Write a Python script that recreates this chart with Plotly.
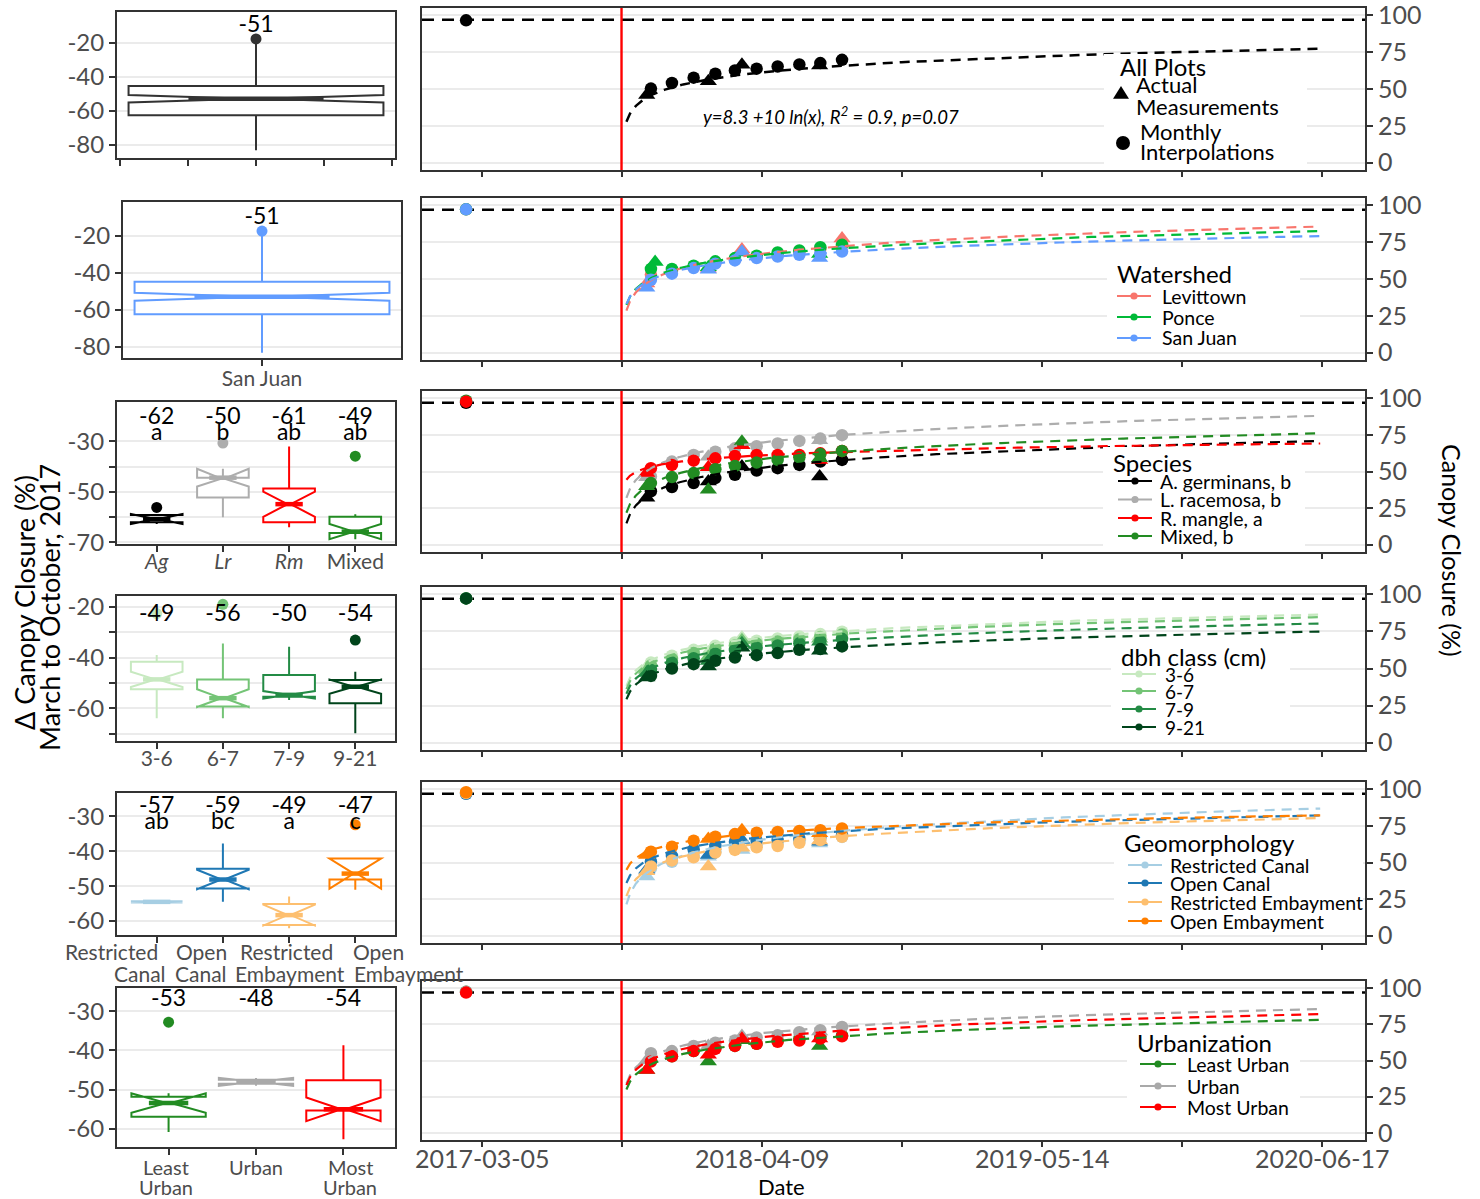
import numpy as np
import plotly.graph_objects as go

W, H = 1480, 1199
FONT = "Lato"
AX_LINE = "#333333"
GRID = "#EBEBEB"
TICK_C = "#4D4D4D"

# ---------------------------------------------------------------- dates
HURRICANE = "2017-09-20"
PRE_DATE = "2017-02-10"
INTERP_DATES = ["2017-11-01", "2017-12-01", "2018-01-01", "2018-02-01", "2018-03-01",
                "2018-04-01", "2018-05-01", "2018-06-01", "2018-07-01", "2018-08-01"]
MEAS_DATES = ["2017-10-26", "2018-01-22", "2018-03-11", "2018-06-30"]
DATE_TICKS = ["2017-03-05", "2017-09-21", "2018-04-09", "2018-10-26",
              "2019-05-14", "2019-11-30", "2020-06-17"]
DATE_TEXT = ["2017-03-05", "", "2018-04-09", "", "2019-05-14", "", "2020-06-17"]
DATE_RANGE = ["2016-12-09", "2020-08-17"]
PRE_LEVEL = 97.0
FIT_DAYS = (7, 998)

# ---------------------------------------------------------------- all plots
all_pre = 96.6
all_interp = [50.3, 54.1, 57.7, 60.4, 62.6, 63.8, 65.3, 66.7, 67.6, 69.8]
all_meas = [45.9, 55.3, 66.5, 66.0]
all_fit = [8.3, 10.0]

# ---------------------------------------------------------------- watershed
ws_names = ["Levittown", "Ponce", "San Juan"]
ws_colors = ["#F8766D", "#00BA38", "#619CFF"]
ws_pre = [97.3, 97.3, 97.3]
ws_interp = [[53.0, 55.5, 58.0, 60.8, 63.2, 64.8, 66.5, 68.5, 70.5, 73.0],
             [56.8, 56.8, 59.0, 62.0, 64.2, 65.8, 68.0, 69.4, 71.6, 73.2],
             [49.5, 53.6, 57.4, 60.4, 62.6, 64.2, 65.3, 66.4, 67.1, 68.7]]
ws_meas = [[47.0, 57.0, 70.0, 77.5],
           [61.5, 58.0, 68.0, 67.0],
           [44.0, 56.3, 68.5, 64.2]]
ws_meas_dates = [["2017-10-26", "2018-01-22", "2018-03-11", "2018-08-01"],
                 ["2017-11-07", "2018-01-22", "2018-03-11", "2018-06-30"],
                 MEAS_DATES]
ws_fit = [[6.2, 11.5], [12.8, 10.1], [14.9, 9.3]]

# ---------------------------------------------------------------- species
sp_names = ["A. germinans, b", "L. racemosa, b", "R. mangle, a", "Mixed, b"]
sp_colors = ["#000000", "#ADADAD", "#FF0000", "#228B22"]
sp_pre = [97.0, 97.5, 97.7, 98.4]
sp_interp = [[36.5, 39.4, 42.1, 45.5, 47.7, 50.7, 52.3, 54.5, 56.8, 57.9],
             [46.6, 56.8, 61.3, 63.5, 65.8, 67.3, 69.1, 70.9, 72.5, 74.8],
             [52.3, 54.5, 57.4, 59.0, 60.6, 61.3, 61.3, 61.3, 62.4, 64.0],
             [42.1, 46.2, 48.9, 51.6, 53.8, 56.1, 57.9, 59.7, 61.9, 64.0]]
sp_meas = [[32.0, 43.2, 53.4, 46.6],
           [46.0, 60.0, 68.0, 71.4],
           [48.9, 52.9, 68.0, 57.9],
           [39.9, 37.6, 70.3, 59.0]]
sp_fit = [[-7.5, 11.35], [10.0, 11.3], [34.6, 5.0], [0.5, 10.95]]

# ---------------------------------------------------------------- dbh class
dbh_names = ["3-6", "6-7", "7-9", "9-21"]
dbh_colors = ["#C7E9C0", "#74C476", "#238B45", "#00441B"]
dbh_pre = [97.3, 97.3, 97.3, 97.3]
dbh_interp = [[54.0, 58.6, 62.6, 65.3, 67.6, 68.7, 70.3, 71.6, 73.2, 74.8],
              [52.0, 56.5, 60.5, 63.3, 65.5, 66.8, 68.3, 69.8, 71.3, 73.0],
              [49.0, 54.0, 57.0, 60.0, 62.5, 64.0, 65.5, 67.0, 68.5, 70.0],
              [45.0, 50.0, 52.9, 55.2, 57.4, 59.0, 60.4, 62.6, 63.1, 64.9]]
dbh_meas = [[51.0, 61.0, 71.0, 72.0],
            [49.0, 58.0, 69.0, 70.0],
            [47.0, 55.0, 67.0, 68.0],
            [43.9, 51.3, 64.0, 61.9]]
dbh_fit = [[19.4, 9.7], [17.0, 9.8], [14.4, 9.55], [11.4, 9.2]]

# ---------------------------------------------------------------- geomorphology
geo_names = ["Restricted Canal", "Open Canal", "Restricted Embayment", "Open Embayment"]
geo_colors = ["#A6CEE3", "#1F78B4", "#FDBF6F", "#FF7F00"]
geo_pre = [97.0, 97.0, 97.5, 98.0]
geo_interp = [[46.0, 50.5, 54.5, 57.5, 60.5, 62.0, 63.5, 64.5, 66.0, 67.5],
              [50.7, 54.5, 59.0, 61.3, 64.2, 64.9, 65.3, 66.4, 67.6, 68.7],
              [47.3, 51.4, 53.6, 56.8, 58.6, 60.4, 61.3, 63.5, 65.3, 67.6],
              [57.4, 60.8, 64.9, 67.6, 69.4, 70.3, 70.9, 71.6, 72.1, 73.2]]
geo_meas = [[40.5, 54.0, 58.6, 63.0],
            [45.0, 55.2, 65.3, 64.2],
            [44.0, 47.3, 60.0, 65.0],
            [55.2, 66.0, 72.1, 70.0]]
geo_fit = [[-4.3, 13.2], [17.9, 9.3], [6.1, 10.75], [30.4, 7.5]]

# ---------------------------------------------------------------- urbanization
urb_names = ["Least Urban", "Urban", "Most Urban"]
urb_colors = ["#228B22", "#A9A9A9", "#FF0000"]
urb_pre = [97.5, 97.5, 97.0]
urb_interp = [[50.7, 52.9, 56.5, 58.7, 60.1, 61.6, 63.8, 65.2, 66.7, 67.4],
              [55.0, 56.5, 60.1, 62.3, 63.8, 65.9, 67.4, 69.6, 71.0, 73.2],
              [49.3, 52.9, 56.5, 58.0, 60.1, 61.6, 63.0, 63.8, 65.2, 66.7]]
urb_meas = [[43.5, 49.3, 64.0, 60.1],
            [50.0, 60.0, 67.0, 70.0],
            [43.5, 54.0, 65.0, 65.2]]
urb_fit = [[11.1, 9.7], [13.8, 10.4], [13.7, 9.9]]

# ---------------------------------------------------------------- box plots (change Mar -> Oct 2017)
all_q1, all_med, all_q3 = [-62.5], [-52.8], [-45.3]
all_lo, all_hi, all_notch = [-83.0], [-17.8], [2.2]
all_out = [[-17.6]]
all_lab = ["-51"]

sj_q1, sj_med, sj_q3 = [-62.3], [-52.8], [-44.7]
sj_lo, sj_hi, sj_notch = [-83.0], [-17.3], [2.2]
sj_out = [[-17.3]]
sj_lab = ["-51"]

spb_cats = ["<i>Ag</i>", "<i>Lr</i>", "<i>Rm</i>", "Mixed"]
spb_q1 = [-62.1, -52.3, -62.1, -66.3]
spb_med = [-60.8, -44.4, -54.9, -65.8]
spb_q3 = [-59.2, -44.4, -48.7, -59.9]
spb_lo = [-62.5, -60.1, -64.1, -67.4]
spb_hi = [-59.2, -41.6, -32.0, -58.9]
spb_notch = [2.0, 3.5, 5.0, 3.0]
spb_out = [[-56.2], [-30.7], [], [-35.9]]
spb_lab = ["-62", "-50", "-61", "-49"]
spb_let = ["a", "b", "ab", "ab"]

dbb_cats = ["3-6", "6-7", "7-9", "9-21"]
dbb_q1 = [-52.5, -59.3, -55.4, -58.0]
dbb_med = [-48.6, -56.0, -54.7, -51.5]
dbb_q3 = [-41.6, -48.6, -46.9, -48.8]
dbb_lo = [-63.9, -63.9, -56.7, -69.8]
dbb_hi = [-39.0, -34.4, -35.7, -45.6]
dbb_notch = [3.0, 3.5, 1.5, 2.8]
dbb_out = [[-22.6], [-19.0], [], [-33.1]]
dbb_lab = ["-49", "-56", "-50", "-54"]

geb_cats = [["Restricted", "Canal"], ["Open", "Canal"], ["Restricted", "Embayment"], ["Open", "Embayment"]]
geb_q1 = [-54.7, -50.7, -61.1, -48.1]
geb_med = [-54.5, -48.1, -58.3, -46.4]
geb_q3 = [-54.3, -45.0, -55.1, -42.1]
geb_lo = [-54.7, -54.5, -62.1, -51.0]
geb_hi = [-54.3, -37.8, -53.0, -42.1]
geb_notch = [0.2, 2.8, 3.0, 4.3]
geb_out = [[], [], [], [-32.4]]
geb_lab = ["-57", "-59", "-49", "-47"]
geb_let = ["ab", "bc", "a", "c"]

urbb_cats = [["Least", "Urban"], ["Urban"], ["Most", "Urban"]]
urbb_q1 = [-56.9, -48.5, -55.3]
urbb_med = [-53.4, -48.0, -55.0]
urbb_q3 = [-51.8, -47.5, -47.6]
urbb_lo = [-60.8, -48.5, -62.6]
urbb_hi = [-51.8, -47.5, -38.7]
urbb_notch = [2.5, 1.0, 3.0]
urbb_out = [[-32.8], [], []]
urbb_lab = ["-53", "-48", "-54"]

# ---------------------------------------------------------------- page geometry (pixels)
TS_ROWS = [(8, 170), (198, 360), (391, 552), (587, 750), (782, 943), (981, 1140)]
TS_X = (422, 1365)
BOX_ROWS = [(12, 158), (202, 358), (402, 544), (596, 741), (793, 935), (988, 1147)]
BOX_X = [(117, 395), (123, 401), (117, 395), (117, 395), (117, 395), (117, 395)]


def px(x):
    return x / W


def py(y):
    return 1 - y / H


def ax(kind, n):
    return kind + ("" if n == 1 else str(n))


fig = go.Figure()
layout = dict(width=W, height=H, margin=dict(l=0, r=0, t=0, b=0, pad=0), autosize=False,
              paper_bgcolor="white", plot_bgcolor="white", showlegend=False,
              font=dict(family=FONT, color=TICK_C))
shapes, annotations = [], []

# ---------------------------------------------------------------- time-series panels
fit_days = np.arange(FIT_DAYS[0], FIT_DAYS[1] + 1)
fit_dates = np.datetime_as_string(np.datetime64(HURRICANE) + fit_days.astype("timedelta64[D]"))


def ts_panel(row, colors, pre, interp, meas, meas_dates, fits, pre_order=None,
             line_w=2.2, mk=12.5, tri=15):
    n = 2 * row + 2
    xa, ya = ax("x", n), ax("y", n)
    t, b = TS_ROWS[row]
    last = row == len(TS_ROWS) - 1
    layout[ax("xaxis", n)] = dict(
        domain=[px(TS_X[0]), px(TS_X[1])], anchor=ya, type="date", range=DATE_RANGE,
        tickvals=DATE_TICKS, ticktext=DATE_TEXT, showticklabels=last,
        showgrid=False, zeroline=False, showline=True, mirror=True, linecolor=AX_LINE,
        linewidth=2, ticks="outside", ticklen=5, tickwidth=1.5, tickcolor=AX_LINE,
        tickfont=dict(size=25, color=TICK_C), tickangle=0, ticklabeloverflow="allow",
        ticklabelstandoff=-9, automargin=False)
    layout[ax("yaxis", n)] = dict(
        domain=[py(b), py(t)], anchor=xa, side="right", range=[-5, 105],
        tickvals=[0, 25, 50, 75, 100], showgrid=True, gridcolor=GRID, gridwidth=1.5,
        zeroline=False, showline=True, mirror=True, linecolor=AX_LINE, linewidth=2,
        ticks="outside", ticklen=6, tickwidth=1.5, tickcolor=AX_LINE,
        tickfont=dict(size=25, color=TICK_C), ticklabeloverflow="allow", automargin=False)
    shapes.append(dict(type="line", xref=xa + " domain", yref=ya, x0=0, x1=1,
                       y0=PRE_LEVEL, y1=PRE_LEVEL, layer="below",
                       line=dict(color="black", width=2.5, dash="12px,8px")))
    shapes.append(dict(type="line", xref=xa, yref=ya + " domain", x0=HURRICANE, x1=HURRICANE,
                       y0=0, y1=1, layer="above", line=dict(color="#FF0000", width=2.4)))
    # pre-hurricane survey, stacked in the given order
    for g in (pre_order or range(len(colors))):
        fig.add_trace(go.Scatter(x=[PRE_DATE], y=[pre[g]], mode="markers", xaxis=xa, yaxis=ya,
                                 marker=dict(symbol="circle", size=mk, color=colors[g]),
                                 hoverinfo="skip"))
    for g, c in enumerate(colors):
        fig.add_trace(go.Scatter(x=INTERP_DATES, y=interp[g], mode="markers", xaxis=xa, yaxis=ya,
                                 marker=dict(symbol="circle", size=mk, color=c), hoverinfo="skip"))
        fig.add_trace(go.Scatter(x=meas_dates[g], y=meas[g], mode="markers", xaxis=xa, yaxis=ya,
                                 marker=dict(symbol="triangle-up", size=tri, color=c), hoverinfo="skip"))
    for g, c in enumerate(colors):
        a, k = fits[g]
        fig.add_trace(go.Scatter(x=fit_dates, y=a + k * np.log(fit_days), mode="lines",
                                 xaxis=xa, yaxis=ya, hoverinfo="skip",
                                 line=dict(color=c, width=line_w, dash="10px,7px")))


ts_panel(0, ["#000000"], [all_pre], [all_interp], [all_meas], [MEAS_DATES], [all_fit], line_w=2.5)
ts_panel(1, ws_colors, ws_pre, ws_interp, ws_meas, ws_meas_dates, ws_fit)
ts_panel(2, sp_colors, sp_pre, sp_interp, sp_meas, [MEAS_DATES] * 4, sp_fit, pre_order=[3, 1, 0, 2])
ts_panel(3, dbh_colors, dbh_pre, dbh_interp, dbh_meas, [MEAS_DATES] * 4, dbh_fit)
ts_panel(4, geo_colors, geo_pre, geo_interp, geo_meas, [MEAS_DATES] * 4, geo_fit)
ts_panel(5, urb_colors, urb_pre, urb_interp, urb_meas, [MEAS_DATES] * 3, urb_fit)


# ---------------------------------------------------------------- legends
def txt(x, y, s, size=20, anchor="left", color="black", italic=False):
    annotations.append(dict(xref="paper", yref="paper", x=px(x), y=py(y),
                            text=f"<i>{s}</i>" if italic else s,
                            showarrow=False, xanchor=anchor, yanchor="middle",
                            font=dict(size=size, color=color, family=FONT)))


def bg(x0, y0, x1, y1):
    shapes.append(dict(type="rect", xref="paper", yref="paper", x0=px(x0), x1=px(x1),
                       y0=py(y1), y1=py(y0), layer="above",
                       line=dict(width=0), fillcolor="white"))


def key_line(x0, x1, y, color):
    shapes.append(dict(type="line", xref="paper", yref="paper", x0=px(x0), x1=px(x1),
                       y0=py(y), y1=py(y), layer="above", line=dict(color=color, width=2.2)))
    cx, r = (x0 + x1) / 2, 3.6
    shapes.append(dict(type="circle", xref="paper", yref="paper", x0=px(cx - r), x1=px(cx + r),
                       y0=py(y + r), y1=py(y - r), layer="above", fillcolor=color,
                       line=dict(color=color, width=0)))


def legend(title, labels, colors, x, title_y, item_ys, key, text_x, right, bottom,
           title_size=24, size=19.5):
    bg(x - 8, title_y - 15, right, bottom)
    txt(x, title_y, title, title_size)
    for lab, c, y in zip(labels, colors, item_ys):
        key_line(key[0], key[1], y, c)
        txt(text_x, y, lab, size)


# all plots legend
bg(1104, 54, 1307, 168)
txt(1118, 66, "All Plots", 24)
tx, ty, s = 1121, 94, 8
shapes.append(dict(type="path", xref="paper", yref="paper", fillcolor="black", line=dict(width=0),
                   layer="above",
                   path=f"M {px(tx - s)},{py(ty + s * 0.6)} L {px(tx + s)},{py(ty + s * 0.6)} "
                        f"L {px(tx)},{py(ty - s)} Z"))
txt(1134, 85, "Actual", 22)
txt(1134, 107, "Measurements", 22)
shapes.append(dict(type="circle", xref="paper", yref="paper", fillcolor="black", line=dict(width=0),
                   layer="above", x0=px(1116), x1=px(1130), y0=py(150), y1=py(136)))
txt(1138, 131, "Monthly", 22)
txt(1138, 152, "Interpolations", 22)
txt(831, 116, "y=8.3 +10 ln(x), R<sup>2</sup> = 0.9, p=0.07", 18.5, "center", italic=True)

legend("Watershed", ws_names, ws_colors, 1115, 273, [296, 317, 338], (1117, 1151), 1160, 1300, 350)
legend("Species", sp_names, sp_colors, 1111, 462, [481, 499.5, 518, 536], (1118, 1152), 1158, 1305,
       546, size=19.5)
legend("dbh class (cm)", dbh_names, dbh_colors, 1119, 656, [674, 691, 709, 727], (1122, 1156), 1163,
       1290, 740, size=19)
legend("Geomorphology", geo_names, geo_colors, 1122, 842, [865, 883, 902, 921], (1128, 1162), 1168,
       1363, 933, size=19.5)
legend("Urbanization", urb_names, urb_colors, 1135, 1042, [1064, 1086, 1107], (1140, 1176), 1185,
       1300, 1120)


# ---------------------------------------------------------------- box panels
def box_panel(row, colors, q1, med, q3, lo, hi, notch, outs, xr, yr, xtv, xtt, ytv, ytt,
              ymin=None, width=0.78, nw=0.47, standoff=-8):
    n = 2 * row + 1
    xa, ya = ax("x", n), ax("y", n)
    t, b = BOX_ROWS[row]
    x0, x1 = BOX_X[row]
    layout[ax("xaxis", n)] = dict(
        domain=[px(x0), px(x1)], anchor=ya, range=xr, tickvals=xtv,
        ticktext=xtt if xtt else None, showticklabels=bool(xtt),
        showgrid=False, zeroline=False, showline=True, mirror=True, linecolor=AX_LINE,
        linewidth=2, ticks="outside", ticklen=6, tickwidth=1.5, tickcolor=AX_LINE,
        tickfont=dict(size=21, color=TICK_C), tickangle=0, ticklabeloverflow="allow",
        ticklabelstandoff=standoff, automargin=False)
    yax = dict(
        domain=[py(b), py(t)], anchor=xa, range=yr, tickvals=ytv, ticktext=ytt,
        showgrid=True, gridcolor=GRID, gridwidth=1.5, zeroline=False, showline=True,
        mirror=True, linecolor=AX_LINE, linewidth=2, ticks="outside", ticklen=6,
        tickwidth=1.5, tickcolor=AX_LINE, tickfont=dict(size=24, color=TICK_C),
        ticklabeloverflow="allow", automargin=False)
    if ymin:
        yax["minor"] = dict(tickvals=ymin, ticks="outside", ticklen=6, tickwidth=1.5,
                            tickcolor=AX_LINE, showgrid=True, gridcolor=GRID, gridwidth=1.5)
    layout[ax("yaxis", n)] = yax
    hw = width / 2 * (1 - nw)
    for i, c in enumerate(colors):
        fig.add_trace(go.Box(x=[i], q1=[q1[i]], median=[med[i]], q3=[q3[i]],
                             lowerfence=[lo[i]], upperfence=[hi[i]], notchspan=[notch[i]],
                             notched=True, notchwidth=nw, width=width, whiskerwidth=0,
                             boxpoints=False, fillcolor="white", xaxis=xa, yaxis=ya,
                             line=dict(color=c, width=2), hoverinfo="skip"))
        fig.add_trace(go.Scatter(x=[i - hw, i + hw], y=[med[i], med[i]], mode="lines",
                                 xaxis=xa, yaxis=ya, hoverinfo="skip",
                                 line=dict(color=c, width=4.5)))
        if outs[i]:
            fig.add_trace(go.Scatter(x=[i] * len(outs[i]), y=outs[i], mode="markers",
                                     xaxis=xa, yaxis=ya, hoverinfo="skip",
                                     marker=dict(size=11, color=c)))
    return xa, ya


def box_text(xa, ya, labels, y, size=23):
    fig.add_trace(go.Scatter(x=list(range(len(labels))), y=[y] * len(labels), text=labels,
                             mode="text", xaxis=xa, yaxis=ya, hoverinfo="skip",
                             textfont=dict(size=size, color="black", family=FONT)))


xa, ya = box_panel(0, ["#333333"], all_q1, all_med, all_q3, all_lo, all_hi, all_notch, all_out,
                   [-0.409, 0.409], [-87.6, -1.8], [-0.4, -0.2, 0, 0.2, 0.4], None,
                   [-20, -40, -60, -80], ["-20", "-40", "-60", "-80"], width=0.75)
box_text(xa, ya, all_lab, -10.0)

xa, ya = box_panel(1, ["#619CFF"], sj_q1, sj_med, sj_q3, sj_lo, sj_hi, sj_notch, sj_out,
                   [-0.409, 0.409], [-85.9, -1.6], [0], ["San Juan"],
                   [-20, -40, -60, -80], ["-20", "-40", "-60", "-80"], width=0.75, standoff=-5)
box_text(xa, ya, sj_lab, -10.4)

xa, ya = box_panel(2, sp_colors, spb_q1, spb_med, spb_q3, spb_lo, spb_hi, spb_notch, spb_out,
                   [-0.6, 3.6], [-70.7, -14.4], [0, 1, 2, 3], spb_cats,
                   [-30, -50, -70], ["-30", "-50", "-70"], ymin=[-40, -60])
box_text(xa, ya, spb_lab, -20.8)
box_text(xa, ya, spb_let, -27.0)

xa, ya = box_panel(3, dbh_colors, dbb_q1, dbb_med, dbb_q3, dbb_lo, dbb_hi, dbb_notch, dbb_out,
                   [-0.6, 3.6], [-72.9, -15.7], [0, 1, 2, 3], dbb_cats,
                   [-20, -40, -60], ["-20", "-40", "-60"], ymin=[-30, -50, -70])
box_text(xa, ya, dbb_lab, -23.3)

xa, ya = box_panel(4, geo_colors, geb_q1, geb_med, geb_q3, geb_lo, geb_hi, geb_notch, geb_out,
                   [-0.6, 3.6], [-64.0, -23.3], [0, 1, 2, 3], None,
                   [-30, -40, -50, -60], ["-30", "-40", "-50", "-60"])
box_text(xa, ya, geb_lab, -27.3)
box_text(xa, ya, geb_let, -32.1)
# two-line category labels under the geomorphology boxes
for (first, second), (fx, sx) in zip(geb_cats, [(111, 140), (201, 201), (286, 290), (378, 409)]):
    txt(fx, 951, first, 21, "center", TICK_C)
    txt(sx, 973, second, 21, "center", TICK_C)

xa, ya = box_panel(5, urb_colors, urbb_q1, urbb_med, urbb_q3, urbb_lo, urbb_hi, urbb_notch, urbb_out,
                   [-0.59, 2.59], [-64.6, -24.1], [0, 1, 2], None,
                   [-30, -40, -50, -60], ["-30", "-40", "-50", "-60"], width=0.85)
box_text(xa, ya, urbb_lab, -27.2)
for lines, cx in zip(urbb_cats, [166, 256, 350]):
    for j, s in enumerate(lines):
        txt(cx, 1167 + 20 * j, s, 20, "center", TICK_C)

# ---------------------------------------------------------------- axis titles
annotations.append(dict(xref="paper", yref="paper", x=px(24), y=py(603), text="Δ Canopy Closure (%)",
                        textangle=-90, showarrow=False, xanchor="center", yanchor="middle",
                        font=dict(size=27, color="black", family=FONT)))
annotations.append(dict(xref="paper", yref="paper", x=px(49), y=py(608), text="March to October, 2017",
                        textangle=-90, showarrow=False, xanchor="center", yanchor="middle",
                        font=dict(size=27, color="black", family=FONT)))
annotations.append(dict(xref="paper", yref="paper", x=px(1452), y=py(550), text="Canopy Closure (%)",
                        textangle=90, showarrow=False, xanchor="center", yanchor="middle",
                        font=dict(size=25, color="black", family=FONT)))
txt(781, 1186, "Date", 22, "center")

layout["shapes"] = shapes
layout["annotations"] = annotations
fig.update_layout(**layout)
fig.write_html("out.html")
